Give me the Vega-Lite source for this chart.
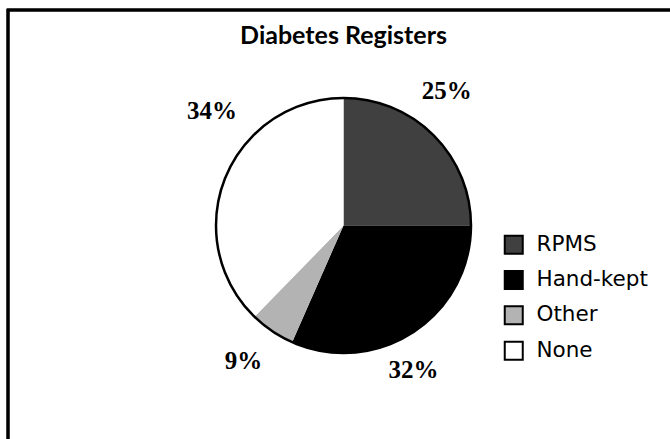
{
  "$schema": "https://vega.github.io/schema/vega-lite/v6.json",
  "autosize": "none",
  "padding": {"left": 8, "top": 10, "right": 0, "bottom": 0},
  "width": 671,
  "height": 431,
  "background": "white",
  "view": {"stroke": "black", "strokeWidth": 2.5},
  "config": {"view": {"stroke": "black", "strokeWidth": 2.5}},
  "title": {
    "text": "Diabetes Registers",
    "font": "Lato",
    "fontSize": 25,
    "fontWeight": "bold",
    "color": "black",
    "anchor": "middle",
    "frame": "group",
    "baseline": "alphabetic",
    "offset": 0,
    "dy": 60
  },
  "data": {
    "values": [
      {"category": "RPMS", "share": 25, "label": "25%", "rank": 1},
      {"category": "Hand-kept", "share": 31.6, "label": "32%", "rank": 2},
      {"category": "Other", "share": 5.7, "label": "9%", "rank": 3},
      {"category": "None", "share": 37.7, "label": "34%", "rank": 4}
    ]
  },
  "layer": [
    {
      "mark": {"type": "rect", "fillOpacity": 0, "stroke": "black", "strokeWidth": 2.5},
      "encoding": {}
    },
    {
      "mark": {"type": "arc", "outerRadius": 127.5},
      "encoding": {
        "theta": {"field": "share", "type": "quantitative", "stack": true},
        "order": {"field": "rank", "type": "quantitative"},
        "color": {
          "field": "category",
          "type": "nominal",
          "scale": {"domain": ["RPMS", "Hand-kept", "Other", "None"], "range": ["#404040", "#000000", "#b3b3b3", "#ffffff"]},
          "legend": {
            "title": null,
            "orient": "none",
            "legendX": 495,
            "legendY": 224,
            "padding": 0,
            "symbolType": "square",
            "symbolSize": 324,
            "symbolStrokeColor": "black",
            "symbolStrokeWidth": 2,
            "symbolFillOpacity": 1,
            "labelFont": "DejaVu Sans",
            "labelFontSize": 21.5,
            "labelColor": "black",
            "labelOffset": 12,
            "rowPadding": 8.3
          }
        }
      }
    },
    {
      "mark": {"type": "arc", "outerRadius": 127.5, "fillOpacity": 0, "stroke": "black", "strokeWidth": 2.5},
      "encoding": {
        "theta": {"aggregate": "sum", "field": "share", "type": "quantitative"}
      }
    },
    {
      "mark": {"type": "text", "radius": 170, "dx": -17, "dy": -14, "font": "Liberation Serif", "fontSize": 25, "fontWeight": "bold", "align": "center", "baseline": "middle", "color": "black"},
      "encoding": {
        "theta": {"field": "share", "type": "quantitative", "stack": true},
        "order": {"field": "rank", "type": "quantitative"},
        "text": {"condition": {"test": "datum.category === 'RPMS'", "field": "label", "type": "nominal"}, "value": ""}
      }
    },
    {
      "mark": {"type": "text", "radius": 170, "dx": -23, "dy": 2, "font": "Liberation Serif", "fontSize": 25, "fontWeight": "bold", "align": "center", "baseline": "middle", "color": "black"},
      "encoding": {
        "theta": {"field": "share", "type": "quantitative", "stack": true},
        "order": {"field": "rank", "type": "quantitative"},
        "text": {"condition": {"test": "datum.category === 'Hand-kept'", "field": "label", "type": "nominal"}, "value": ""}
      }
    },
    {
      "mark": {"type": "text", "radius": 170, "dx": -5, "dy": -5, "font": "Liberation Serif", "fontSize": 25, "fontWeight": "bold", "align": "center", "baseline": "middle", "color": "black"},
      "encoding": {
        "theta": {"field": "share", "type": "quantitative", "stack": true},
        "order": {"field": "rank", "type": "quantitative"},
        "text": {"condition": {"test": "datum.category === 'Other'", "field": "label", "type": "nominal"}, "value": ""}
      }
    },
    {
      "mark": {"type": "text", "radius": 170, "dx": 26, "dy": -50, "font": "Liberation Serif", "fontSize": 25, "fontWeight": "bold", "align": "center", "baseline": "middle", "color": "black"},
      "encoding": {
        "theta": {"field": "share", "type": "quantitative", "stack": true},
        "order": {"field": "rank", "type": "quantitative"},
        "text": {"condition": {"test": "datum.category === 'None'", "field": "label", "type": "nominal"}, "value": ""}
      }
    }
  ]
}
